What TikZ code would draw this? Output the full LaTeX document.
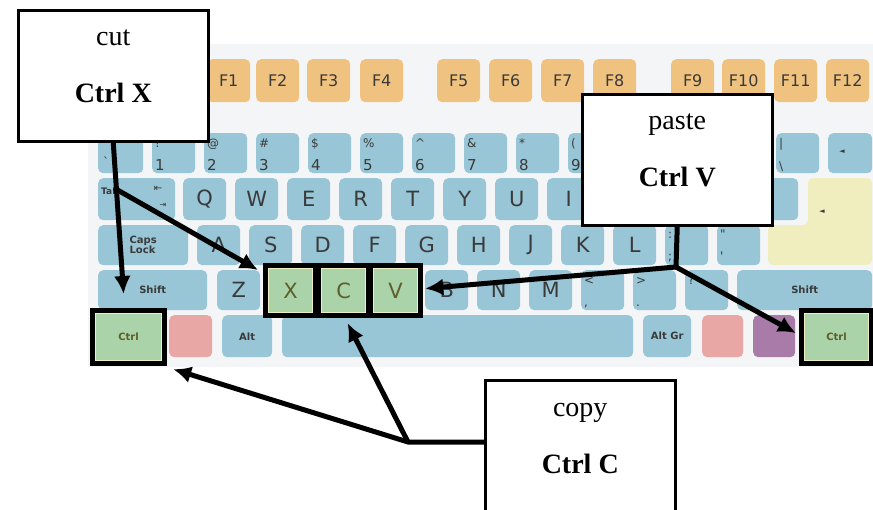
\documentclass[tikz,border=0pt]{standalone}
\usepackage{fontspec}
\setmainfont{Liberation Serif}
\newfontfamily\keyfont{DejaVu Sans}
\usetikzlibrary{arrows.meta}

\definecolor{kbback}{HTML}{F4F5F7}
\definecolor{keyblue}{HTML}{98C6D6}
\definecolor{keyorange}{HTML}{F0C27F}
\definecolor{keygreen}{HTML}{ABD3A9}
\definecolor{keyrim}{HTML}{EEF0C2}
\definecolor{keypink}{HTML}{E8A6A4}
\definecolor{keypurple}{HTML}{A97BA9}
\definecolor{keyyellow}{HTML}{F0EEBE}
\definecolor{keyink}{HTML}{3A3A3A}
\definecolor{hotink}{HTML}{5E5E2A}

\begin{document}
\begin{tikzpicture}[x=1pt,y=-1pt,
    key/.style={fill=keyblue, rounded corners=5pt, anchor=north west, inner sep=0pt,
      minimum width=43pt, minimum height=40pt, text=keyink,
      font=\keyfont\fontsize{21}{21}\selectfont},
    fkey/.style={key, fill=keyorange, minimum height=43pt,
      font=\keyfont\fontsize{16}{16}\selectfont},
    modkey/.style={key, font=\keyfont\bfseries\fontsize{10}{12}\selectfont},
    hotkey/.style={key, fill=keygreen, draw=keyrim, line width=1.2pt, rounded corners=0pt,
      minimum width=44pt, minimum height=44pt, text=hotink},
    keyframe/.style={draw=black, line width=5pt},
    upsym/.style={anchor=base west, inner sep=0pt, text=keyink,
      font=\keyfont\fontsize{12}{12}\selectfont},
    dnsym/.style={upsym, font=\keyfont\fontsize{15}{15}\selectfont},
    callout/.style={draw=black, line width=2.5pt, fill=white, anchor=north west,
      minimum width=190pt, minimum height=131pt},
    word/.style={anchor=base, inner sep=0pt, font=\fontsize{28}{28}\selectfont},
    combo/.style={word, font=\bfseries\fontsize{28}{28}\selectfont},
    conn/.style={line width=5pt, -{Latex[length=18pt,width=17pt]}}]
  \useasboundingbox (0,0) rectangle (873,509);
  \fill[kbback] (88,44) rectangle (880,367);

  % function keys
  \foreach \k/\x in {F1/207,F2/256,F3/307,F4/360,F5/437,F6/489,F7/541,F8/593,
                     F9/671,F10/722,F11/774,F12/826}
    \node[fkey] (\k) at (\x,59) {\k};

  % number row
  \node[key, minimum width=45pt] (grave) at (98,133) {};
  \node[upsym] (gravesym) at (103,166) {\textasciigrave};
  \foreach \i in {0,...,11}
    \node[key] (num\i) at (152+52*\i,133) {};
  \foreach \i/\up/\dn in {0/!/1,1/@/2,2/\#/3,3/\$/4,4/\%/5,5/\textasciicircum/6,
                          6/\&/7,7/*/8,8/{(}/9}{
    \node[upsym] (numup\i) at (155+52*\i,147) {\up};
    \node[dnsym] (numdn\i) at (155+52*\i,170) {\dn};
  }
  \node[key] (bslash) at (776,133) {};
  \node[upsym] (bslashup) at (779,147) {\textbar};
  \node[upsym] (bslashdn) at (779,170) {\textbackslash};
  \node[key, minimum width=44pt] (bksp) at (828,133) {};
  \node[anchor=center, text=keyink, font=\keyfont\fontsize{7}{7}\selectfont] (bksparrow) at (842,152) {◄};

  % top letter row
  \node[key, minimum width=77pt, minimum height=42pt] (tab) at (98,178) {};
  \node[anchor=west, inner sep=0pt, text=keyink, font=\keyfont\bfseries\fontsize{9}{9}\selectfont] (tabtext) at (101,191) {Tab};
  \node[inner sep=0pt, text=keyink, font=\keyfont\fontsize{10}{10}\selectfont] (tableft) at (158,189) {⇤};
  \node[inner sep=0pt, text=keyink, font=\keyfont\fontsize{8}{8}\selectfont] (tabright) at (163,205) {⇥};
  \foreach \l [count=\i from 0] in {Q,W,E,R,T,Y,U,I}
    \node[key, minimum height=42pt] (top\l) at (183+52*\i,178) {\l};
  \foreach \i in {8,...,11}
    \node[key, minimum height=42pt] (top\i) at (183+52*\i,178) {};
  \fill[keyyellow, rounded corners=5pt] (808,178) -- (872,178) -- (872,265)
    -- (768,265) -- (768,225) -- (808,225) -- cycle;
  \node[anchor=center, text=keyink, font=\keyfont\fontsize{7}{7}\selectfont] (enterarrow) at (822,212) {◄};

  % home row
  \node[modkey, minimum width=90pt, align=left] (caps) at (98,225) {Caps\\[-2pt]Lock};
  \foreach \l [count=\i from 0] in {A,S,D,F,G,H,J,K,L}
    \node[key] (home\l) at (197+52*\i,225) {\l};
  \node[key] (semi) at (665,225) {};
  \node[upsym] (semiup) at (668,238) {:};
  \node[upsym] (semidn) at (668,260) {;};
  \node[key] (quote) at (717,225) {};
  \node[upsym] (quoteup) at (720,238) {\symbol{34}};
  \node[upsym] (quotedn) at (720,260) {\symbol{39}};

  % bottom letter row
  \node[modkey, minimum width=109pt] (lshift) at (98,270) {Shift};
  \node[key] (keyz) at (217,270) {Z};
  \node[hotkey] (keyx) at (268,268) {X};
  \node[hotkey] (keyc) at (321,268) {C};
  \node[hotkey] (keyv) at (373,268) {V};
  \foreach \l [count=\i from 0] in {B,N,M}
    \node[key] (low\l) at (425+52*\i,270) {\l};
  \foreach \i/\up/\dn in {0/</{,},1/>/.,2/?//}{
    \node[key] (punct\i) at (581+52*\i,270) {};
    \node[upsym] (punctup\i) at (584+52*\i,284) {\up};
    \node[upsym] (punctdn\i) at (584+52*\i,306) {\dn};
  }
  \node[modkey, minimum width=135pt] (rshift) at (737,270) {Shift};

  % space row
  \node[hotkey, minimum width=66pt, minimum height=47pt,
        font=\keyfont\bfseries\fontsize{10}{12}\selectfont] (lctrl) at (95,313) {Ctrl};
  \node[key, fill=keypink, minimum height=42pt] (lwin) at (169,315) {};
  \node[modkey, minimum width=50pt, minimum height=42pt] (lalt) at (222,315) {Alt};
  \node[key, minimum width=351pt, minimum height=42pt] (space) at (282,315) {};
  \node[modkey, minimum width=48pt, minimum height=42pt] (altgr) at (643,315) {Alt Gr};
  \node[key, fill=keypink, minimum width=41pt, minimum height=42pt] (rwin) at (702,315) {};
  \node[key, fill=keypurple, minimum width=42pt, minimum height=42pt] (menu) at (753,315) {};
  \node[hotkey, minimum width=64pt, minimum height=47pt,
        font=\keyfont\bfseries\fontsize{10}{12}\selectfont] (rctrl) at (804,313) {Ctrl};

  % black frames round the shortcut keys
  \foreach \k in {keyx,keyc,keyv,lctrl,rctrl}
    \draw[keyframe] ([shift={(-2.5pt,2.5pt)}]\k.north west) rectangle ([shift={(2.5pt,-2.5pt)}]\k.south east);

  % callouts
  \node[callout] (cutbox) at (17,9) {};
  \node[word] (cutword) at ([yshift=-36pt]cutbox.north) {cut};
  \node[combo] (cutkeys) at ([yshift=-93pt]cutbox.north) {Ctrl X};
  \node[callout] (pastebox) at (581,93) {};
  \node[word] (pasteword) at ([yshift=-36pt]pastebox.north) {paste};
  \node[combo] (pastekeys) at ([yshift=-93pt]pastebox.north) {Ctrl V};
  \node[callout, minimum height=140pt] (copybox) at (484,379) {};
  \node[word] (copyword) at ([yshift=-37pt]copybox.north) {copy};
  \node[combo] (copykeys) at ([yshift=-94pt]copybox.north) {Ctrl C};

  % connectors
  \coordinate (cutfork) at (114,188);
  \coordinate (pastefork) at (676,267);
  \coordinate (copyfork) at (408,442);
  \draw[conn] (cutbox.south) -- ([xshift=-5pt,yshift=19pt]lctrl.north);
  \draw[conn] (cutfork) -- ([xshift=-10pt,yshift=-2pt]keyx.north west);
  \draw[conn] (pastebox.south) -- (pastefork) -- ([xshift=7pt,yshift=2pt]keyv.east);
  \draw[conn] (pastefork) -- ([xshift=-8pt,yshift=4pt]rctrl.west);
  \draw[conn] (copybox.west |- copyfork) -- (copyfork) -- ([shift={(11pt,-8pt)}]lctrl.south east);
  \draw[conn] (copyfork) -- ([xshift=4pt,yshift=-10pt]keyc.south);
\end{tikzpicture}
\end{document}
